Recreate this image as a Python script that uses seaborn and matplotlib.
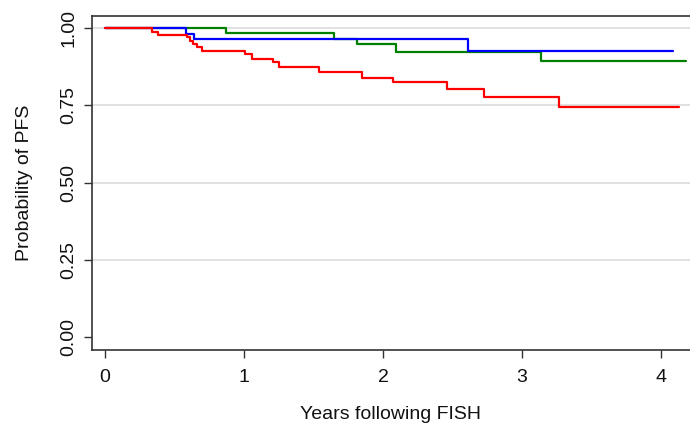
import pandas as pd
import numpy as np
import seaborn as sns
import matplotlib.pyplot as plt

# Kaplan-Meier step curves (years, probability)
red_t = [0, 0.34, 0.38, 0.59, 0.61, 0.63, 0.66, 0.70, 1.01, 1.06, 1.21, 1.25,
         1.54, 1.85, 2.07, 2.46, 2.73, 3.27, 4.13]
red_s = [1.0, 0.987, 0.977, 0.970, 0.959, 0.949, 0.939, 0.927, 0.915, 0.899,
         0.889, 0.874, 0.858, 0.840, 0.826, 0.802, 0.778, 0.744, 0.744]

blue_t = [0, 0.58, 0.64, 2.61, 4.09]
blue_s = [1.0, 0.981, 0.963, 0.927, 0.927]

green_t = [0, 0.87, 1.65, 1.81, 2.09, 3.14, 4.18]
green_s = [1.0, 0.983, 0.966, 0.948, 0.924, 0.893, 0.893]

y_ticks = [0.0, 0.25, 0.50, 0.75, 1.00]
y_labels = ["0.00", "0.25", "0.50", "0.75", "1.00"]
x_ticks = [0, 1, 2, 3, 4]

#long format dataframe for seaborn
df = pd.concat([
    pd.DataFrame({"years": green_t, "pfs": green_s, "group": "green"}),
    pd.DataFrame({"years": blue_t, "pfs": blue_s, "group": "blue"}),
    pd.DataFrame({"years": red_t, "pfs": red_s, "group": "red"}),
])

sns.set_style("white")
plt.rcParams['font.family'] = ['Liberation Sans', 'DejaVu Sans']

fig = plt.figure(figsize=(6.9, 4.33), dpi=100)
ax = fig.add_axes([0.1333, 0.1917, 0.8667, 0.7707])

# grid lines at the y ticks (not at 0)
for y in y_ticks[1:]:
    ax.axhline(y, color="#dedede", lw=1.3, zorder=0)

sns.lineplot(data=df, x="years", y="pfs", hue="group",
             hue_order=["green", "blue", "red"],
             palette={"green": "#008000", "blue": "#0000ff", "red": "#ff0000"},
             estimator=None, drawstyle="steps-post", linewidth=1.6,
             legend=False, ax=ax)

ax.set_xlim(-0.094, 4.209)
ax.set_ylim(-0.041, 1.038)
ax.set_xticks(x_ticks)
ax.set_yticks(y_ticks)
ax.set_yticklabels(y_labels, rotation=90, va="center")
ax.tick_params(axis="both", direction="out", length=5.8, width=1, color="#333333",
               labelsize=14, labelcolor="#111111")
ax.tick_params(axis="x", bottom=True, pad=8)
ax.tick_params(axis="y", left=True, pad=4.5)

for side in ["left", "bottom", "top"]:
    ax.spines[side].set_color("#333333")
    ax.spines[side].set_linewidth(1.2)
ax.spines["right"].set_visible(False)

ax.set_xlabel("Years following FISH", fontsize=14, labelpad=14, color="#111111")
ax.set_ylabel("Probability of PFS", fontsize=14, labelpad=20, color="#111111")

fig.savefig("out.png", dpi=100)
